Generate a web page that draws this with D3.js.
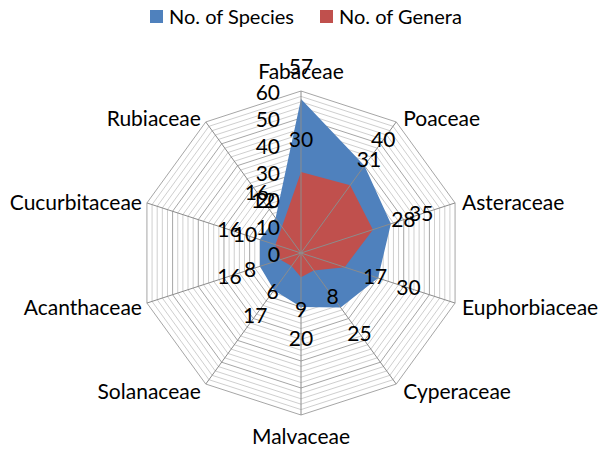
<!DOCTYPE html>
<html>
<head>
<meta charset="utf-8">
<script src="https://cdn.jsdelivr.net/npm/d3@7"></script>
<style>
  body { margin: 0; background: #fff; }
  text { font-family: Lato, "Liberation Sans", sans-serif; fill: #000; }
</style>
</head>
<body>
<script>
const WIDTH = 608;
const HEIGHT = 453;
const CX = 301;
const CY = 253;
const RADIUS = 162;

const CATEGORIES = ["Fabaceae", "Poaceae", "Asteraceae", "Euphorbiaceae", "Cyperaceae",
                    "Malvaceae", "Solanaceae", "Acanthaceae", "Cucurbitaceae", "Rubiaceae"];
const SPECIES = [57, 40, 35, 30, 25, 20, 17, 16, 16, 16];
const GENERA = [30, 31, 28, 17, 8, 9, 6, 8, 10, 12];
const TICKS = [0, 10, 20, 30, 40, 50, 60];
const SERIES = [
  { name: "No. of Species", values: SPECIES, color: "#4F81BD" },
  { name: "No. of Genera", values: GENERA, color: "#C0504D" }
];

let svg = d3.select("body")
            .append("svg")
            .attr("width", WIDTH)
            .attr("height", HEIGHT);

const r = d3.scaleLinear().domain([0, 60]).range([0, RADIUS]);
const angle = d3.scaleLinear().domain([0, CATEGORIES.length]).range([0, 2 * Math.PI]);

// point of value v on axis i, relative to the centre
const pos = (i, v) => [Math.sin(angle(i)) * r(v), -Math.cos(angle(i)) * r(v)];

const radar = d3.lineRadial()
                .angle((d, i) => angle(i))
                .radius(d => r(d))
                .curve(d3.curveLinearClosed);

let chart = svg.append("g")
               .attr("transform", `translate(${CX},${CY})`);

// grid every 2, a bit darker every 10
chart.selectAll("path.grid")
     .data(d3.range(2, 61, 2))
     .enter().append("path")
     .attr("class", "grid")
     .attr("d", v => radar(CATEGORIES.map(() => v)))
     .attr("fill", "none")
     .attr("stroke", v => v % 10 === 0 ? "#a6a6a6" : "#cfcfcf")
     .attr("stroke-width", 1);

chart.selectAll("path.series")
     .data(SERIES)
     .enter().append("path")
     .attr("class", "series")
     .attr("d", d => radar(d.values))
     .attr("fill", d => d.color);

chart.selectAll("line.spoke")
     .data(CATEGORIES)
     .enter().append("line")
     .attr("class", "spoke")
     .attr("x1", 0)
     .attr("y1", 0)
     .attr("x2", (d, i) => pos(i, 60)[0])
     .attr("y2", (d, i) => pos(i, 60)[1])
     .attr("stroke", "#8c8c8c")
     .attr("stroke-width", 1);

chart.selectAll("text.tick")
     .data(TICKS)
     .enter().append("text")
     .attr("class", "tick")
     .attr("x", -21)
     .attr("y", d => -r(d) + 2)
     .attr("dy", "0.35em")
     .attr("text-anchor", "end")
     .attr("font-size", 21)
     .text(d => d);

chart.selectAll("text.cat")
     .data(CATEGORIES)
     .enter().append("text")
     .attr("class", "cat")
     .attr("x", (d, i) => {
       const S = Math.sin(angle(i));
       const X = pos(i, 60)[0];
       if (S > 0.1) return X + 7;
       if (S < -0.1) return X - 5;
       return X;
     })
     .attr("y", (d, i) => {
       const C = Math.cos(angle(i));
       const Y = pos(i, 60)[1];
       if (C > 0.99) return Y - 19;
       if (C < -0.99) return Y + 22;
       return Y + 2 - 7 * C;
     })
     .attr("dy", "0.35em")
     .attr("text-anchor", (d, i) => {
       const S = Math.sin(angle(i));
       return S > 0.1 ? "start" : S < -0.1 ? "end" : "middle";
     })
     .attr("font-size", 21)
     .text(d => d);

SERIES.forEach(s => {
  chart.selectAll(null)
       .data(s.values)
       .enter().append("text")
       .attr("x", (d, i) => pos(i, d)[0] + Math.sin(angle(i)) * 32)
       .attr("y", (d, i) => pos(i, d)[1] - Math.cos(angle(i)) * 32)
       .attr("dy", "0.35em")
       .attr("text-anchor", "middle")
       .attr("font-size", 21)
       .text(d => d);
});

let legend = svg.selectAll("g.legend")
                .data(SERIES)
                .enter().append("g")
                .attr("class", "legend")
                .attr("transform", (d, i) => `translate(${150 + i * 170},10)`);

legend.append("rect")
      .attr("width", 13)
      .attr("height", 13)
      .attr("fill", d => d.color);

legend.append("text")
      .attr("x", 19)
      .attr("y", 7)
      .attr("dy", "0.35em")
      .attr("font-size", 20)
      .text(d => d.name);
</script>
</body>
</html>
